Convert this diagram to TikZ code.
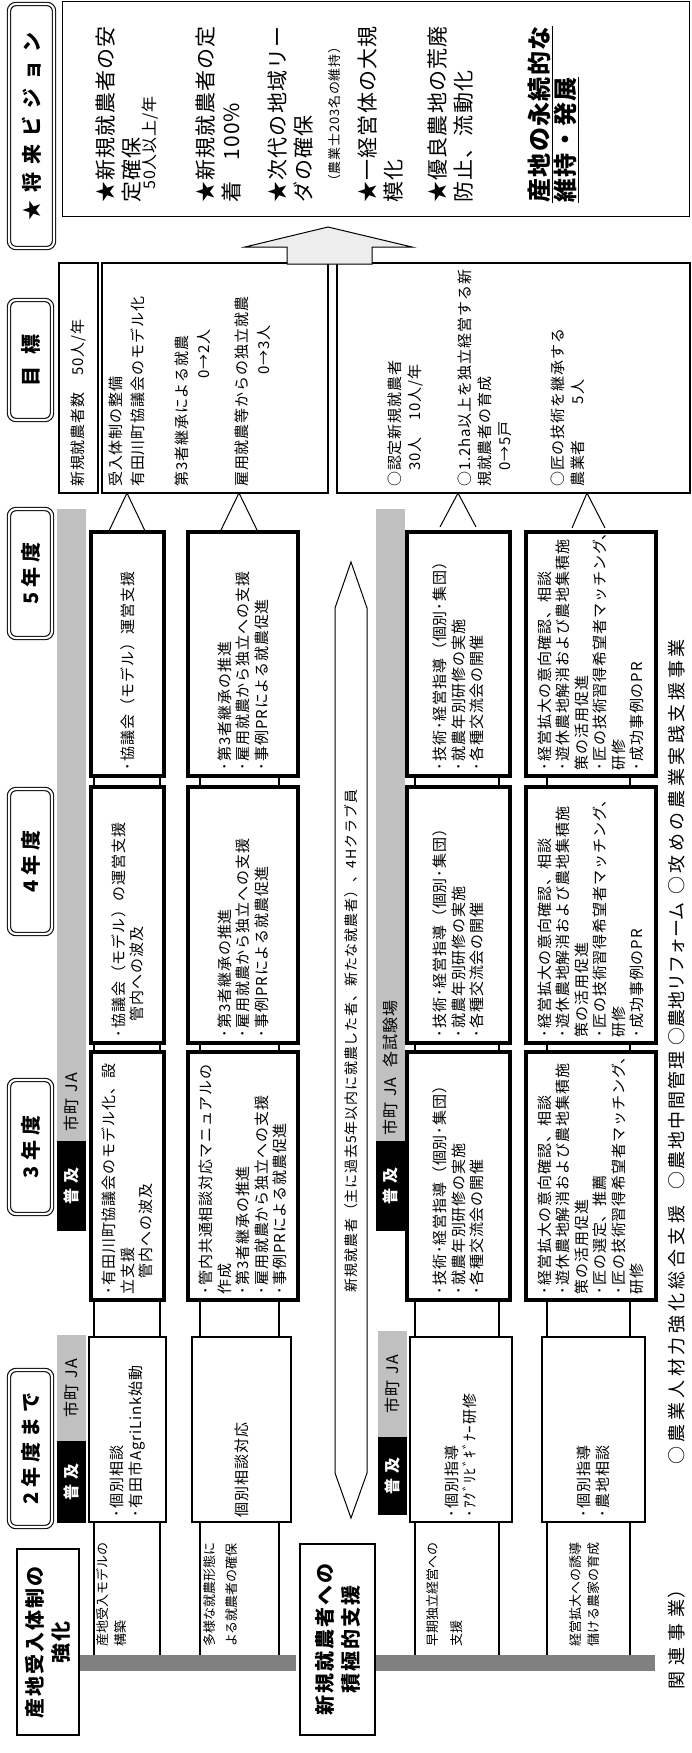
\documentclass[tikz,border=0pt]{standalone}
\usepackage{fontspec}
\setmainfont{Noto Sans CJK JP}[LetterSpace=6]
\newcommand{\bodyfont}{\fontsize{15}{18.5}\selectfont}
\newcommand{\hdrfont}{\fontsize{20}{24}\selectfont\bfseries\addfontfeature{LetterSpace=25}}
\newcommand{\tagfont}{\fontsize{16}{18}\selectfont}
\newcommand{\lblfont}{\fontsize{13}{18}\selectfont\addfontfeature{LetterSpace=0}}
\newcommand{\visfont}{\fontsize{21}{26}\selectfont}
\definecolor{barg}{RGB}{128,128,128}
\definecolor{tagg}{RGB}{192,192,192}
\begin{document}
\begin{tikzpicture}[x=1pt,y=-1pt,
  thinbox/.style={draw, line width=1.1pt, fill=white, rotate=90, inner xsep=5pt, inner ysep=0pt, align=left, font=\bodyfont},
  thickbox/.style={draw, line width=4pt, fill=white, rotate=90, inner xsep=6pt, inner ysep=0pt, align=left, font=\bodyfont},
  hdr/.style={draw, rotate=90, rounded corners=7pt, double=white, double distance=2.2pt, line width=1.1pt, fill=white, font=\hdrfont, inner sep=0pt},
  rowhdr/.style={draw, line width=1.3pt, rotate=90, align=center, fill=white, inner sep=0pt, font=\fontsize{20}{26}\selectfont\bfseries\addfontfeature{LetterSpace=10}},
  tagblk/.style={rotate=90, fill=black, text=white, inner sep=0pt, font=\tagfont\bfseries},
  taggry/.style={rotate=90, fill=tagg, inner sep=0pt, font=\tagfont},
  tagtxt/.style={rotate=90, inner sep=0pt, font=\tagfont},
  band/.style={line width=1.1pt},
  lbl/.style={rotate=90, inner sep=0pt, align=left, font=\lblfont},
  gtxt/.style={rotate=90, inner sep=0pt, align=left, font=\fontsize{15}{22}\selectfont},
  vtxt/.style={rotate=90, inner sep=0pt, align=left, font=\visfont},
  vbold/.style={rotate=90, inner sep=0pt, align=left, font=\fontsize{24}{26}\selectfont\bfseries},
  rel/.style={rotate=90, inner sep=0pt, font=\fontsize{18}{20}\selectfont\addfontfeature{LetterSpace=#1}},
  plain/.style={draw, line width=1.1pt, fill=white, inner sep=0pt}
]
\useasboundingbox (0,0) rectangle (691,1753);

% ---------- band lines (behind boxes) ----------
\draw[band] (94,778) -- (94,1663);
\draw[band] (160,778) -- (160,1663);
\draw[band] (200,778) -- (200,1663);
\draw[band] (279,778) -- (279,1663);
\draw[band] (415,778) -- (415,1663);
\draw[band] (499,778) -- (499,1663);
\draw[band] (547,778) -- (547,1663);
\draw[band] (630,778) -- (630,1663);

% ---------- gray bars ----------
\node[fill=barg, minimum width=217pt, minimum height=16pt, inner sep=0pt] (bar1) at (187.5,1663) {};
\node[fill=barg, minimum width=280pt, minimum height=16pt, inner sep=0pt] (bar2) at (515,1663) {};

% ---------- column headers ----------
\node[hdr, minimum width=157pt, minimum height=43pt] (hd2) at (30.5,1448.5) {2年度まで};
\node[hdr, minimum width=134pt, minimum height=43pt] (hd3) at (30.5,1147) {3年度};
\node[hdr, minimum width=145pt, minimum height=43pt] (hd4) at (30.5,861.5) {4年度};
\node[hdr, minimum width=129pt, minimum height=43pt] (hd5) at (30.5,573.5) {5年度};
\node[hdr, minimum width=120pt, minimum height=43pt] (hdg) at (30.5,360) {目\hspace{12pt}標};
\node[hdr, minimum width=244pt, minimum height=45pt, font=\hdrfont\addfontfeature{LetterSpace=40}] (hdv) at (31.5,126) {★将来ビジョン};

% ---------- row headers ----------
\node[rowhdr, minimum width=186pt, minimum height=62pt] (rh1) at (48,1642) {産地受入体制の\\強化};
\node[rowhdr, minimum width=191pt, minimum height=75pt] (rh2) at (337.5,1639.5) {新規就農者への\\積極的支援};

% ---------- tags ----------
\node[tagblk, minimum width=82pt, minimum height=29pt] (ta2k) at (71.5,1482) {普\hspace{5pt}及};
\node[taggry, minimum width=106pt, minimum height=29pt] (ta2g) at (71.5,1388) {市町\hspace{6pt}JA};
\node[tagblk, minimum width=90pt, minimum height=29pt] (ta3k) at (71.5,1186) {普\hspace{5pt}及};
\node[taggry, minimum width=632pt, minimum height=29pt] (ta3g) at (71.5,825) {};
\node[tagtxt] (ta3t) at (71.5,1102) {市町\hspace{6pt}JA};
\node[tagblk, minimum width=78pt, minimum height=29pt] (tb2k) at (392.5,1476) {普\hspace{5pt}及};
\node[taggry, minimum width=106pt, minimum height=29pt] (tb2g) at (392.5,1384) {市町\hspace{6pt}JA};
\node[tagblk, minimum width=90pt, minimum height=29pt] (tb3k) at (390.5,1186) {普\hspace{5pt}及};
\node[taggry, minimum width=632pt, minimum height=29pt] (tb3g) at (390.5,825) {};
\node[tagtxt] (tb3t) at (390.5,1068) {市町\hspace{6pt}JA\hspace{10pt}各試験場};

% ---------- row 1 ----------
\node[thinbox, minimum width=185pt, minimum height=77pt, text width=175pt] (b12) at (127.5,1429.5) {･個別相談\\･有田市AgriLink始動};
\node[thickbox, minimum width=248pt, minimum height=73pt, text width=236pt] (b13) at (127.5,1176) {･有田川町協議会のモデル化、設\\立支援\\　管内への波及};
\node[thickbox, minimum width=256pt, minimum height=73pt, text width=244pt] (b14) at (127.5,915) {･協議会（モデル）の運営支援\\　管内への波及};
\node[thickbox, minimum width=244pt, minimum height=73pt, text width=232pt] (b15) at (127.5,654) {･協議会（モデル）運営支援};

% ---------- row 2 ----------
\node[thinbox, minimum width=185pt, minimum height=99pt, text width=175pt] (b22) at (241.5,1429.5) {個別相談対応};
\node[thickbox, minimum width=248pt, minimum height=110pt, text width=236pt] (b23) at (243,1176) {･管内共通相談対応マニュアルの\\作成\\･第3者継承の推進\\･雇用就農から独立への支援\\･事例PRによる就農促進};
\node[thickbox, minimum width=256pt, minimum height=110pt, text width=244pt] (b24) at (243,915) {･第3者継承の推進\\･雇用就農から独立への支援\\･事例PRによる就農促進};
\node[thickbox, minimum width=244pt, minimum height=110pt, text width=232pt] (b25) at (243,654) {･第3者継承の推進\\･雇用就農から独立への支援\\･事例PRによる就農促進};

% ---------- row 3 ----------
\node[thinbox, minimum width=185pt, minimum height=102pt, text width=175pt] (b32) at (461,1429.5) {･個別指導\\･ｱｸﾞﾘﾋﾞｷﾞﾅｰ研修};
\node[thickbox, minimum width=248pt, minimum height=103pt, text width=236pt] (b33) at (458.5,1176) {･技術･経営指導（個別･集団）\\･就農年別研修の実施\\･各種交流会の開催};
\node[thickbox, minimum width=256pt, minimum height=103pt, text width=244pt] (b34) at (458.5,915) {･技術･経営指導（個別･集団）\\･就農年別研修の実施\\･各種交流会の開催};
\node[thickbox, minimum width=244pt, minimum height=103pt, text width=232pt] (b35) at (458.5,654) {･技術･経営指導（個別･集団）\\･就農年別研修の実施\\･各種交流会の開催};

% ---------- row 4 ----------
\node[thinbox, minimum width=185pt, minimum height=103pt, text width=175pt] (b42) at (593.5,1429.5) {･個別指導\\･農地相談};
\node[thickbox, minimum width=248pt, minimum height=130pt, text width=236pt] (b43) at (591,1176) {･経営拡大の意向確認、相談\\･遊休農地解消および農地集積施\\策の活用促進\\･匠の選定、推薦\\･匠の技術習得希望者マッチング、\\研修};
\node[thickbox, minimum width=256pt, minimum height=130pt, text width=244pt] (b44) at (591,915) {･経営拡大の意向確認、相談\\･遊休農地解消および農地集積施\\策の活用促進\\･匠の技術習得希望者マッチング、\\研修\\･成功事例のPR};
\node[thickbox, minimum width=244pt, minimum height=130pt, text width=232pt] (b45) at (591,654) {･経営拡大の意向確認、相談\\･遊休農地解消および農地集積施\\策の活用促進\\･匠の技術習得希望者マッチング、\\研修\\･成功事例のPR};

% ---------- row labels ----------
\node[lbl, anchor=north west] (l1) at (96,1647) {産地受入モデルの\\構築};
\node[lbl, anchor=north west] (l2) at (203,1647) {多様な就農形態に\\[4pt]よる就農者の確保};
\node[lbl, anchor=north west] (l3) at (426,1647) {早期独立経営への\\[6pt]支援};
\node[lbl, anchor=north west] (l4) at (569,1647) {経営拡大への誘導\\儲ける農家の育成};

% ---------- long arrow ----------
\draw[line width=1pt, fill=white] (351,562) -- (367,608) -- (367,1473) -- (351,1518) -- (335,1473) -- (335,608) -- cycle;
\node[rotate=90, inner sep=0pt, font=\fontsize{14}{16}\selectfont] (arrtxt) at (351,1041) {新規就農者（主に過去5年以内に就農した者、新たな就農者）、4Hクラブ員};

% ---------- goal boxes ----------
\node[plain, minimum width=39pt, minimum height=230pt] (g0) at (78.5,378) {};
\node[plain, minimum width=226pt, minimum height=230pt] (g1) at (215,378) {};
\node[plain, minimum width=353pt, minimum height=230pt] (g2) at (513.5,378) {};
\node[gtxt, anchor=west] (g0t) at (78.5,487) {新規就農者数　50人/年};
\node[gtxt, anchor=north west] (g1t) at (108.5,487) {受入体制の整備\\有田川町協議会のモデル化\\[22pt]第3者継承による就農\\\hspace*{108pt}0→2人\\[16pt]雇用就農等からの独立就農\\\hspace*{112pt}0→3人};
\node[gtxt, anchor=north west, font=\fontsize{15}{20}\selectfont] (g2t) at (387.5,487) {○認定新規就農者\\　30人　10人/年\\[30pt]○1.2ha以上を独立経営する新\\規就農者の育成\\　0→5戸\\[33pt]○匠の技術を継承する\\農業者\hspace{36pt}5人};

% ---------- wedges ----------
\draw[line width=1pt] (108,533) -- (127,493) -- (146,533);
\draw[line width=1pt] (220,532) -- (239,493) -- (258,532);
\draw[line width=1pt] (440,527) -- (458,493) -- (476,527);
\draw[line width=1pt] (572,528) -- (587,493) -- (605,528);

% ---------- up arrow ----------
\draw[line width=1pt, fill=black!7] (287,264) -- (287,247) -- (245,247) -- (328,227) -- (412,247) -- (372,247) -- (372,264) -- cycle;

% ---------- vision ----------
\node[draw, line width=1.2pt, minimum width=627pt, minimum height=215pt, inner sep=0pt] (vis) at (376,109) {};
\node[vtxt, anchor=north west] (v1) at (96,203) {★新規就農者の安\\定確保};
\node[vtxt, anchor=north west, font=\fontsize{16}{18}\selectfont] (v1s) at (142,190) {50人以上/年};
\node[vtxt, anchor=north west] (v2) at (196,203) {★新規就農者の定\\着\quad 100\%};
\node[vtxt, anchor=north west] (v3) at (268,203) {★次代の地域リー\\ダの確保};
\node[vtxt, anchor=north west, font=\fontsize{13}{15}\selectfont] (v3s) at (328,188) {（農業士203名の維持）};
\node[vtxt, anchor=north west] (v4) at (358,203) {★一経営体の大規\\模化};
\node[vtxt, anchor=north west] (v5) at (428,203) {★優良農地の荒廃\\防止、流動化};
\node[vbold, anchor=north west] (v6) at (528,203) {\underline{産地の永続的な}\\\underline{維持・発展}};

% ---------- related projects ----------
\node[rel=6, anchor=west] (r0) at (677,1690) {関\hspace{6pt}連\hspace{6pt}事\hspace{6pt}業）};
\node[rel=22, anchor=west] (r1) at (677,1465) {○農業人材力強化総合支援};
\node[rel=11, anchor=west] (r2) at (677,1190) {○農地中間管理};
\node[rel=0, anchor=west] (r3) at (677,1046) {○農地リフォーム};
\node[rel=20, anchor=west] (r4) at (677,895) {○攻めの農業実践支援事業};
\end{tikzpicture}
\end{document}
